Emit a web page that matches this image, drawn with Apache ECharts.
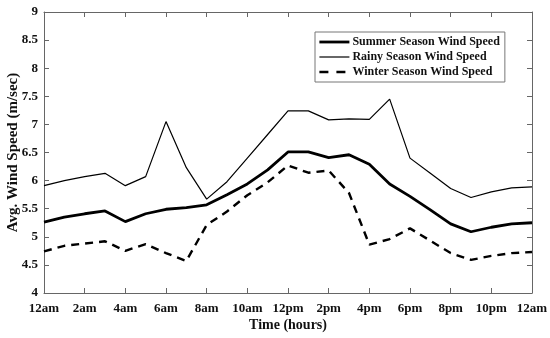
<!DOCTYPE html>
<html>
<head>
<meta charset="utf-8">
<script src="https://cdn.jsdelivr.net/npm/echarts@6/dist/echarts.min.js"></script>
<style>
html,body{margin:0;padding:0;background:#fff;}
#c{width:550px;height:338px;}
</style>
</head>
<body>
<div id="c"></div>
<script>
var hours = ['12am','1am','2am','3am','4am','5am','6am','7am','8am','9am','10am','11am','12pm','1pm','2pm','3pm','4pm','5pm','6pm','7pm','8pm','9pm','10pm','11pm','12am'];
var summer = [5.26,5.35,5.41,5.46,5.27,5.41,5.49,5.52,5.57,5.75,5.94,6.19,6.51,6.51,6.41,6.46,6.29,5.94,5.72,5.48,5.23,5.09,5.17,5.23,5.25];
var rainy = [5.91,6.00,6.07,6.13,5.91,6.07,7.05,6.23,5.67,5.98,6.40,6.82,7.24,7.24,7.08,7.10,7.09,7.45,6.40,6.13,5.86,5.70,5.80,5.87,5.89];
var winter = [4.74,4.84,4.88,4.92,4.75,4.87,4.71,4.57,5.21,5.45,5.74,5.97,6.27,6.14,6.18,5.78,4.86,4.96,5.15,4.93,4.71,4.59,4.66,4.71,4.73];
var seriesNames = ['Summer Season Wind Speed','Rainy Season Wind Speed','Winter Season Wind Speed'];

var FONT = '"Liberation Serif", "Times New Roman", serif';
var chart = echarts.init(document.getElementById('c'), null, {renderer:'canvas'});
var axisCol = '#666';
var widths = [2.8, 1.2, 2.4];
var dashes = ['solid', 'solid', [8,6]];
var legendDashes = ['solid', 'solid', [9,8]];
chart.setOption({
  animation:false,
  backgroundColor:'#fff',
  grid:{left:44, right:18, top:12, bottom:45, containLabel:false, outerBoundsMode:'none'},
  legend:{
    orient:'vertical', left:315, top:32,
    data:seriesNames.map(function(n,i){return {name:n, lineStyle:{width:widths[i], type:legendDashes[i], color:'#000'}};}),
    itemWidth:30, itemHeight:12, itemGap:3,
    borderColor:'#777', borderWidth:1, padding:[4,5,4,3],
    backgroundColor:'#fff',
    itemStyle:{opacity:0},
    textStyle:{fontFamily:FONT, fontWeight:'bold', fontSize:12, color:'#111', padding:[0,0,0,-2]}
  },
  xAxis:[{
    type:'category', data:hours, boundaryGap:false,
    name:'Time (hours)', nameLocation:'middle', nameGap:25, nameMoveOverlap:false,
    nameTextStyle:{fontFamily:FONT, fontWeight:'bold', fontSize:14, color:'#111'},
    axisLine:{lineStyle:{color:axisCol, width:1}},
    axisTick:{inside:true, length:5, interval:1, lineStyle:{color:axisCol}},
    axisLabel:{interval:1, fontFamily:FONT, fontWeight:'bold', fontSize:13, color:'#111', margin:9},
    splitLine:{show:false}
  },{
    type:'category', data:hours, boundaryGap:false, position:'top',
    axisLine:{lineStyle:{color:axisCol, width:1}},
    axisTick:{inside:true, length:5, interval:1, lineStyle:{color:axisCol}},
    axisLabel:{show:false}, splitLine:{show:false}
  }],
  yAxis:[{
    type:'value', min:4, max:9, interval:0.5,
    name:'Avg. Wind Speed (m/sec)', nameLocation:'middle', nameGap:23, nameMoveOverlap:false,
    nameTextStyle:{fontFamily:FONT, fontWeight:'bold', fontSize:15, color:'#111'},
    axisLine:{show:true, lineStyle:{color:axisCol, width:1}},
    axisTick:{show:true, inside:true, length:5, lineStyle:{color:axisCol}},
    axisLabel:{fontFamily:FONT, fontWeight:'bold', fontSize:13, color:'#111', margin:6},
    splitLine:{show:false}
  },{
    type:'value', min:4, max:9, interval:0.5, position:'right',
    axisLine:{show:true, lineStyle:{color:axisCol, width:1}},
    axisTick:{show:true, inside:true, length:5, lineStyle:{color:axisCol}},
    axisLabel:{show:false}, splitLine:{show:false}
  }],
  series:[
    {name:seriesNames[0], type:'line', data:summer, symbol:'none', xAxisIndex:0, yAxisIndex:0,
     lineStyle:{color:'#000', width:widths[0], type:dashes[0]}, itemStyle:{color:'#000'}},
    {name:seriesNames[1], type:'line', data:rainy, symbol:'none',
     lineStyle:{color:'#000', width:widths[1], type:dashes[1]}, itemStyle:{color:'#000'}},
    {name:seriesNames[2], type:'line', data:winter, symbol:'none',
     lineStyle:{color:'#000', width:widths[2], type:dashes[2]}, itemStyle:{color:'#000'}}
  ]
});
</script>
</body>
</html>
